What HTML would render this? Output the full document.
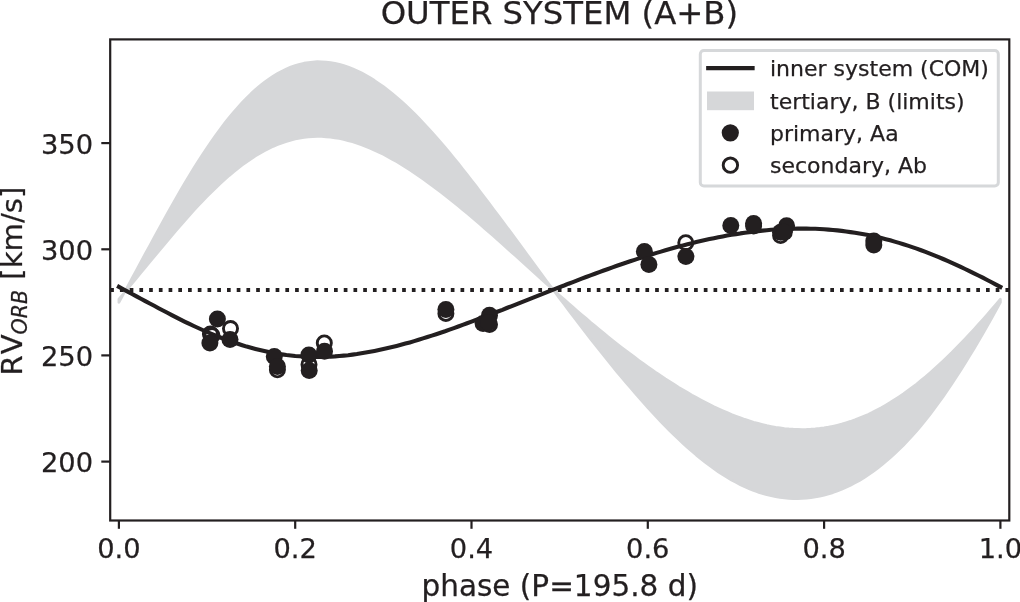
<!DOCTYPE html>
<html lang="en"><head><meta charset="utf-8"><title>OUTER SYSTEM (A+B)</title>
<style>html,body{margin:0;padding:0;background:#fff;width:1020px;height:602px;overflow:hidden}svg{display:block;will-change:transform}text{font-family:"DejaVu Sans","Liberation Sans",sans-serif;fill:#231f20;stroke:#231f20;stroke-width:0.25px;stroke-linejoin:round}</style></head><body>
<svg width="1020" height="602" viewBox="0 0 1020 602">
<rect width="1020" height="602" fill="#fff"/>
<defs><clipPath id="ax"><rect x="110.2" y="39.4" width="899.1" height="481.1"/></clipPath></defs>
<g clip-path="url(#ax)">
<path d="M118.9 299.2 L123.3 294.0 L127.7 288.7 L132.1 283.4 L136.5 278.1 L140.9 272.7 L145.3 267.4 L149.8 262.0 L154.2 256.7 L158.6 251.4 L163.0 246.1 L167.4 240.8 L171.8 235.6 L176.2 230.4 L180.6 225.3 L185.0 220.3 L189.4 215.3 L193.8 210.4 L198.2 205.7 L202.6 201.0 L207.1 196.4 L211.5 192.0 L215.9 187.7 L220.3 183.5 L224.7 179.5 L229.1 175.6 L233.5 171.9 L237.9 168.4 L242.3 165.0 L246.7 161.8 L251.1 158.8 L255.5 155.9 L259.9 153.3 L264.3 150.8 L268.8 148.5 L273.2 146.4 L277.6 144.6 L282.0 142.9 L286.4 141.4 L290.8 140.1 L295.2 139.0 L299.6 138.1 L304.0 137.4 L308.4 136.9 L312.8 136.6 L317.2 136.5 L321.6 136.5 L326.1 136.8 L330.5 137.2 L334.9 137.8 L339.3 138.5 L343.7 139.5 L348.1 140.6 L352.5 141.8 L356.9 143.2 L361.3 144.7 L365.7 146.4 L370.1 148.2 L374.5 150.2 L378.9 152.2 L383.4 154.4 L387.8 156.8 L392.2 159.2 L396.6 161.7 L401.0 164.3 L405.4 167.1 L409.8 169.9 L414.2 172.8 L418.6 175.8 L423.0 178.9 L427.4 182.1 L431.8 185.3 L436.2 188.6 L440.6 191.9 L445.1 195.4 L449.5 198.9 L453.9 202.4 L458.3 206.0 L462.7 209.6 L467.1 213.3 L471.5 217.0 L475.9 220.8 L480.3 224.6 L484.7 228.4 L489.1 232.3 L493.5 236.1 L497.9 240.1 L502.4 244.0 L506.8 247.9 L511.2 251.9 L515.6 255.8 L520.0 259.8 L524.4 263.8 L528.8 267.8 L533.2 271.8 L537.6 275.7 L542.0 279.7 L546.4 283.7 L550.8 287.6 L555.2 291.5 L559.6 295.4 L564.1 299.3 L568.5 303.2 L572.9 307.1 L577.3 310.9 L581.7 314.7 L586.1 318.4 L590.5 322.2 L594.9 325.8 L599.3 329.5 L603.7 333.1 L608.1 336.7 L612.5 340.2 L616.9 343.7 L621.4 347.2 L625.8 350.6 L630.2 353.9 L634.6 357.2 L639.0 360.5 L643.4 363.7 L647.8 366.8 L652.2 369.9 L656.6 373.0 L661.0 375.9 L665.4 378.9 L669.8 381.7 L674.2 384.5 L678.7 387.3 L683.1 389.9 L687.5 392.5 L691.9 395.1 L696.3 397.5 L700.7 399.9 L705.1 402.2 L709.5 404.5 L713.9 406.7 L718.3 408.7 L722.7 410.7 L727.1 412.6 L731.5 414.5 L736.0 416.2 L740.4 417.8 L744.8 419.4 L749.2 420.8 L753.6 422.2 L758.0 423.4 L762.4 424.5 L766.8 425.6 L771.2 426.5 L775.6 427.3 L780.0 427.9 L784.4 428.5 L788.8 428.9 L793.2 429.2 L797.7 429.4 L802.1 429.5 L806.5 429.4 L810.9 429.2 L815.3 428.9 L819.7 428.4 L824.1 427.8 L828.5 427.1 L832.9 426.2 L837.3 425.2 L841.7 424.1 L846.1 422.8 L850.5 421.4 L855.0 419.8 L859.4 418.1 L863.8 416.3 L868.2 414.4 L872.6 412.3 L877.0 410.0 L881.4 407.7 L885.8 405.1 L890.2 402.5 L894.6 399.7 L899.0 396.8 L903.4 393.8 L907.8 390.6 L912.2 387.4 L916.7 384.0 L921.1 380.4 L925.5 376.8 L929.9 373.0 L934.3 369.1 L938.7 365.1 L943.1 361.0 L947.5 356.8 L951.9 352.5 L956.3 348.0 L960.7 343.5 L965.1 338.9 L969.5 334.2 L974.0 329.4 L978.4 324.5 L982.8 319.6 L987.2 314.6 L991.6 309.5 L996.0 304.4 L1000.4 299.2 L1000.4 302.4 L996.0 310.4 L991.6 318.3 L987.2 326.1 L982.8 333.7 L978.4 341.3 L974.0 348.8 L969.5 356.1 L965.1 363.2 L960.7 370.3 L956.3 377.1 L951.9 383.8 L947.5 390.3 L943.1 396.7 L938.7 402.8 L934.3 408.8 L929.9 414.6 L925.5 420.2 L921.1 425.6 L916.7 430.8 L912.2 435.8 L907.8 440.6 L903.4 445.2 L899.0 449.6 L894.6 453.8 L890.2 457.8 L885.8 461.6 L881.4 465.3 L877.0 468.7 L872.6 471.9 L868.2 474.9 L863.8 477.8 L859.4 480.5 L855.0 482.9 L850.5 485.2 L846.1 487.3 L841.7 489.3 L837.3 491.0 L832.9 492.6 L828.5 494.0 L824.1 495.2 L819.7 496.2 L815.3 497.0 L810.9 497.7 L806.5 498.2 L802.1 498.5 L797.7 498.7 L793.2 498.6 L788.8 498.4 L784.4 498.0 L780.0 497.5 L775.6 496.7 L771.2 495.8 L766.8 494.8 L762.4 493.5 L758.0 492.1 L753.6 490.5 L749.2 488.7 L744.8 486.8 L740.4 484.7 L736.0 482.4 L731.5 480.0 L727.1 477.4 L722.7 474.7 L718.3 471.8 L713.9 468.7 L709.5 465.5 L705.1 462.2 L700.7 458.7 L696.3 455.1 L691.9 451.3 L687.5 447.5 L683.1 443.5 L678.7 439.3 L674.2 435.1 L669.8 430.8 L665.4 426.3 L661.0 421.8 L656.6 417.1 L652.2 412.4 L647.8 407.6 L643.4 402.7 L639.0 397.7 L634.6 392.7 L630.2 387.5 L625.8 382.3 L621.4 377.1 L616.9 371.8 L612.5 366.4 L608.1 361.0 L603.7 355.5 L599.3 349.9 L594.9 344.4 L590.5 338.8 L586.1 333.1 L581.7 327.4 L577.3 321.7 L572.9 315.9 L568.5 310.1 L564.1 304.3 L559.6 298.4 L555.2 292.5 L550.8 286.6 L546.4 280.7 L542.0 274.8 L537.6 268.8 L533.2 262.8 L528.8 256.9 L524.4 250.9 L520.0 244.9 L515.6 238.9 L511.2 232.9 L506.8 227.0 L502.4 221.0 L497.9 215.1 L493.5 209.2 L489.1 203.3 L484.7 197.5 L480.3 191.7 L475.9 185.9 L471.5 180.2 L467.1 174.5 L462.7 169.0 L458.3 163.4 L453.9 158.0 L449.5 152.6 L445.1 147.4 L440.6 142.2 L436.2 137.1 L431.8 132.2 L427.4 127.3 L423.0 122.6 L418.6 118.0 L414.2 113.5 L409.8 109.2 L405.4 105.0 L401.0 101.0 L396.6 97.2 L392.2 93.5 L387.8 90.0 L383.4 86.6 L378.9 83.5 L374.5 80.5 L370.1 77.7 L365.7 75.2 L361.3 72.8 L356.9 70.7 L352.5 68.7 L348.1 67.0 L343.7 65.6 L339.3 64.3 L334.9 63.3 L330.5 62.6 L326.1 62.0 L321.6 61.8 L317.2 61.7 L312.8 62.0 L308.4 62.5 L304.0 63.2 L299.6 64.3 L295.2 65.6 L290.8 67.1 L286.4 69.0 L282.0 71.1 L277.6 73.5 L273.2 76.1 L268.8 79.1 L264.3 82.3 L259.9 85.8 L255.5 89.5 L251.1 93.6 L246.7 97.9 L242.3 102.4 L237.9 107.3 L233.5 112.3 L229.1 117.6 L224.7 123.2 L220.3 129.0 L215.9 135.0 L211.5 141.3 L207.1 147.7 L202.6 154.4 L198.2 161.2 L193.8 168.3 L189.4 175.5 L185.0 182.8 L180.6 190.3 L176.2 197.9 L171.8 205.7 L167.4 213.5 L163.0 221.4 L158.6 229.4 L154.2 237.5 L149.8 245.6 L145.3 253.7 L140.9 261.9 L136.5 270.1 L132.1 278.2 L127.7 286.3 L123.3 294.4 L118.9 302.4Z" fill="#d6d7d9" stroke="#d6d7d9" stroke-width="2.7" stroke-linejoin="round"/>
<path d="M110.2 290 H1009.3" stroke="#231f20" stroke-width="4.1" stroke-dasharray="3.7 6.031" fill="none"/>
<path d="M118.9 286.9 L123.3 289.3 L127.7 291.6 L132.1 294.0 L136.5 296.4 L140.9 298.7 L145.3 301.1 L149.8 303.5 L154.2 305.8 L158.6 308.2 L163.0 310.5 L167.4 312.8 L171.8 315.1 L176.2 317.4 L180.6 319.6 L185.0 321.8 L189.4 323.9 L193.8 326.0 L198.2 328.0 L202.6 330.0 L207.1 332.0 L211.5 333.9 L215.9 335.7 L220.3 337.5 L224.7 339.2 L229.1 340.8 L233.5 342.3 L237.9 343.8 L242.3 345.2 L246.7 346.6 L251.1 347.8 L255.5 349.0 L259.9 350.1 L264.3 351.1 L268.8 352.1 L273.2 352.9 L277.6 353.7 L282.0 354.4 L286.4 355.0 L290.8 355.5 L295.2 356.0 L299.6 356.3 L304.0 356.6 L308.4 356.8 L312.8 356.9 L317.2 357.0 L321.6 356.9 L326.1 356.8 L330.5 356.6 L334.9 356.4 L339.3 356.0 L343.7 355.6 L348.1 355.2 L352.5 354.6 L356.9 354.0 L361.3 353.3 L365.7 352.6 L370.1 351.8 L374.5 351.0 L378.9 350.1 L383.4 349.1 L387.8 348.1 L392.2 347.1 L396.6 346.0 L401.0 344.8 L405.4 343.6 L409.8 342.4 L414.2 341.1 L418.6 339.8 L423.0 338.4 L427.4 337.0 L431.8 335.6 L436.2 334.2 L440.6 332.7 L445.1 331.2 L449.5 329.6 L453.9 328.1 L458.3 326.5 L462.7 324.9 L467.1 323.3 L471.5 321.6 L475.9 320.0 L480.3 318.3 L484.7 316.6 L489.1 314.9 L493.5 313.2 L497.9 311.5 L502.4 309.8 L506.8 308.0 L511.2 306.3 L515.6 304.6 L520.0 302.8 L524.4 301.1 L528.8 299.3 L533.2 297.6 L537.6 295.8 L542.0 294.1 L546.4 292.3 L550.8 290.6 L555.2 288.9 L559.6 287.2 L564.1 285.5 L568.5 283.7 L572.9 282.1 L577.3 280.4 L581.7 278.7 L586.1 277.0 L590.5 275.4 L594.9 273.8 L599.3 272.1 L603.7 270.5 L608.1 269.0 L612.5 267.4 L616.9 265.8 L621.4 264.3 L625.8 262.8 L630.2 261.3 L634.6 259.9 L639.0 258.4 L643.4 257.0 L647.8 255.6 L652.2 254.2 L656.6 252.9 L661.0 251.6 L665.4 250.3 L669.8 249.0 L674.2 247.8 L678.7 246.6 L683.1 245.4 L687.5 244.3 L691.9 243.2 L696.3 242.1 L700.7 241.1 L705.1 240.1 L709.5 239.1 L713.9 238.2 L718.3 237.3 L722.7 236.4 L727.1 235.6 L731.5 234.8 L736.0 234.1 L740.4 233.4 L744.8 232.8 L749.2 232.2 L753.6 231.6 L758.0 231.1 L762.4 230.6 L766.8 230.2 L771.2 229.8 L775.6 229.5 L780.0 229.2 L784.4 229.0 L788.8 228.8 L793.2 228.7 L797.7 228.6 L802.1 228.6 L806.5 228.6 L810.9 228.7 L815.3 228.8 L819.7 229.0 L824.1 229.3 L828.5 229.6 L832.9 230.0 L837.3 230.4 L841.7 230.9 L846.1 231.5 L850.5 232.1 L855.0 232.7 L859.4 233.5 L863.8 234.3 L868.2 235.1 L872.6 236.1 L877.0 237.0 L881.4 238.1 L885.8 239.2 L890.2 240.3 L894.6 241.6 L899.0 242.9 L903.4 244.2 L907.8 245.6 L912.2 247.1 L916.7 248.6 L921.1 250.2 L925.5 251.9 L929.9 253.6 L934.3 255.3 L938.7 257.1 L943.1 259.0 L947.5 260.9 L951.9 262.8 L956.3 264.8 L960.7 266.9 L965.1 269.0 L969.5 271.1 L974.0 273.3 L978.4 275.5 L982.8 277.7 L987.2 280.0 L991.6 282.3 L996.0 284.6 L1000.4 286.9" stroke="#231f20" stroke-width="4.1" fill="none" stroke-linecap="square" stroke-linejoin="round"/>
<g fill="none" stroke="#231f20" stroke-width="2.9">
<circle cx="230.5" cy="328.5" r="7.05"/>
<circle cx="210.4" cy="334" r="7.05"/>
<circle cx="212" cy="335.5" r="7.05"/>
<circle cx="277.4" cy="369.8" r="7.05"/>
<circle cx="309" cy="364.4" r="7.05"/>
<circle cx="324.3" cy="342.9" r="7.05"/>
<circle cx="445.9" cy="313.4" r="7.05"/>
<circle cx="489.5" cy="324.5" r="7.05"/>
<circle cx="685.8" cy="242.7" r="7.05"/>
<circle cx="780.6" cy="235.6" r="7.05"/>
</g>
<g fill="#231f20">
<circle cx="217.4" cy="318.9" r="8.5"/>
<circle cx="230.0" cy="339.4" r="8.5"/>
<circle cx="209.9" cy="342.9" r="8.5"/>
<circle cx="274.3" cy="356.6" r="8.5"/>
<circle cx="277.4" cy="366.5" r="8.5"/>
<circle cx="308.9" cy="354.9" r="8.5"/>
<circle cx="309.2" cy="370.4" r="8.5"/>
<circle cx="324.5" cy="351.3" r="8.5"/>
<circle cx="445.9" cy="309.5" r="8.5"/>
<circle cx="489.5" cy="315.2" r="8.5"/>
<circle cx="483.1" cy="323.4" r="8.5"/>
<circle cx="488.5" cy="322.5" r="8.5"/>
<circle cx="644.4" cy="251.4" r="8.5"/>
<circle cx="648.9" cy="264.4" r="8.5"/>
<circle cx="685.9" cy="256.4" r="8.5"/>
<circle cx="730.8" cy="225.4" r="8.5"/>
<circle cx="753.6" cy="223.4" r="8.5"/>
<circle cx="753.6" cy="226.1" r="8.5"/>
<circle cx="786.6" cy="225.7" r="8.5"/>
<circle cx="780.6" cy="232.3" r="8.5"/>
<circle cx="784.3" cy="232.3" r="8.5"/>
<circle cx="873.8" cy="240.9" r="8.5"/>
<circle cx="873.8" cy="244.9" r="8.5"/>
</g></g>
<rect x="110.2" y="39.4" width="899.1" height="481.1" fill="none" stroke="#231f20" stroke-width="2.2"/>
<g stroke="#231f20" stroke-width="2.2">
<path d="M118.9 520.5 V528.8"/>
<path d="M295.2 520.5 V528.8"/>
<path d="M471.5 520.5 V528.8"/>
<path d="M647.8 520.5 V528.8"/>
<path d="M824.1 520.5 V528.8"/>
<path d="M1000.4 520.5 V528.8"/>
<path d="M110.2 461.6 H101.3"/>
<path d="M110.2 355.4 H101.3"/>
<path d="M110.2 249.3 H101.3"/>
<path d="M110.2 143.1 H101.3"/>
</g>
<g font-size="27.3" text-anchor="middle">
<text x="118.9" y="558.1">0.0</text>
<text x="295.2" y="558.1">0.2</text>
<text x="471.5" y="558.1">0.4</text>
<text x="647.8" y="558.1">0.6</text>
<text x="824.1" y="558.1">0.8</text>
<text x="1000.4" y="558.1">1.0</text>
</g>
<g font-size="27.3" text-anchor="end">
<text x="93.1" y="472.1">200</text>
<text x="93.1" y="365.9">250</text>
<text x="93.1" y="259.8">300</text>
<text x="93.1" y="153.6">350</text>
</g>
<text x="559.4" y="23.8" font-size="32.3" text-anchor="middle">OUTER SYSTEM (A+B)</text>
<text x="559.7" y="595.6" font-size="29.5" text-anchor="middle">phase (P=195.8 d)</text>
<text transform="translate(22.0 375.5) rotate(-90)" font-size="29.2">R<tspan dx="2.6">V</tspan></text>
<text transform="translate(27.4 334.4) rotate(-90)" font-size="20.6" font-style="italic">ORB</text>
<text transform="translate(22.0 279.7) rotate(-90)" font-size="29.2">[km/s]</text>
<rect x="700.3" y="50.5" width="298" height="135.5" rx="3.6" fill="#fff" fill-opacity="0.8" stroke="#d6d8da" stroke-width="3"/>
<path d="M708.2 68.1 H752.6" stroke="#231f20" stroke-width="4.1" stroke-linecap="square"/>
<rect x="707" y="91.5" width="47" height="18.7" fill="#d6d7d9"/>
<circle cx="730.3" cy="132.8" r="8.6" fill="#231f20"/>
<circle cx="730.4" cy="165.2" r="7.2" fill="none" stroke="#231f20" stroke-width="2.9"/>
<g font-size="22">
<text x="770" y="76.0">inner system (COM)</text>
<text x="770" y="108.5">tertiary, B (limits)</text>
<text x="770" y="140.9">primary, Aa</text>
<text x="770" y="173.4">secondary, Ab</text>
</g>
</svg></body></html>
